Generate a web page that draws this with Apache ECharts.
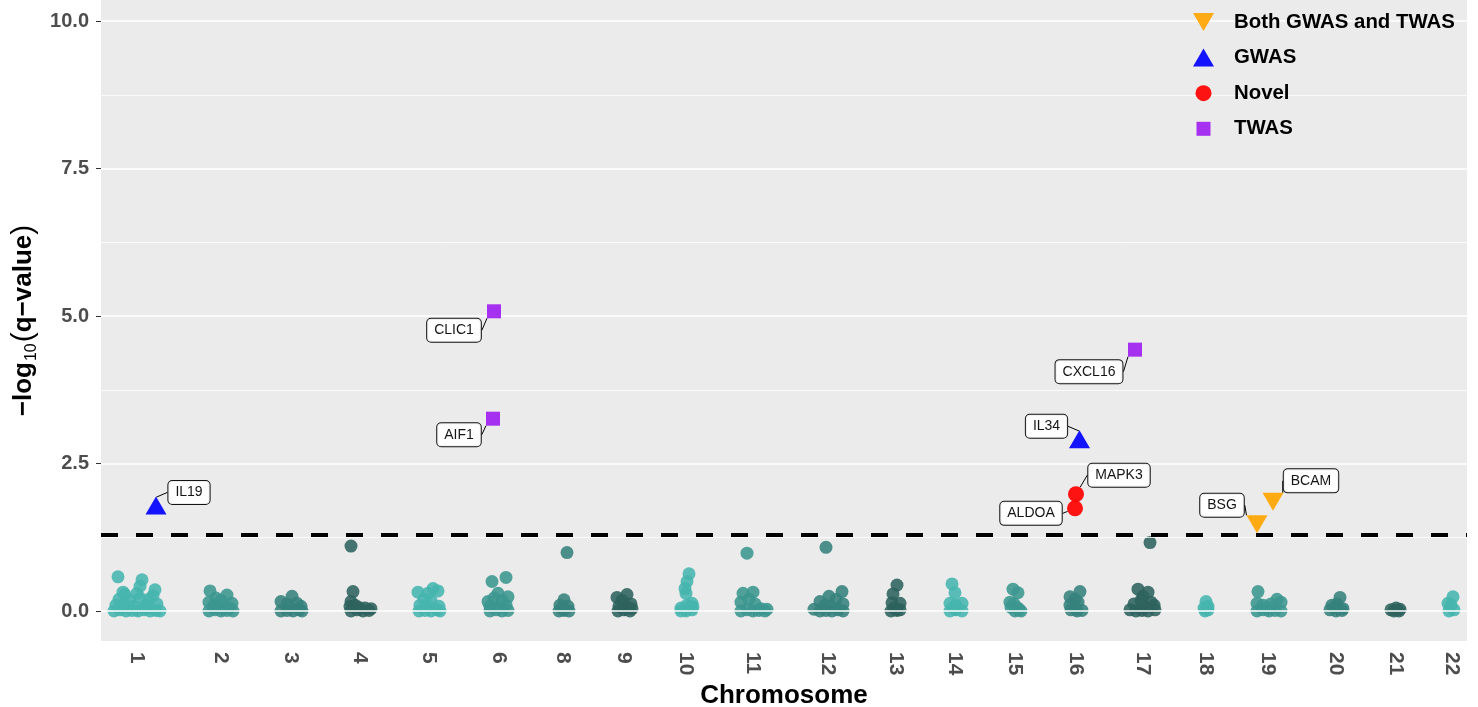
<!DOCTYPE html>
<html>
<head>
<meta charset="utf-8">
<script src="https://cdn.jsdelivr.net/npm/echarts@6/dist/echarts.min.js"></script>
<style>
html,body{margin:0;padding:0;background:#fff;}
#chart{width:1478px;height:707px;}
</style>
</head>
<body>
<div id="chart"></div>
<script>
// ---------------- data ----------------
const chromLabels = ['1','2','3','4','5','6','8','9','10','11','12','13','14','15','16','17','18','19','20','21','22'];
const chromCenters = [3.6, 12.0, 19.0, 25.9, 32.8, 39.8, 46.2, 52.3, 58.5, 65.2, 72.7, 79.5, 85.4, 91.4, 97.5, 104.2, 110.5, 116.7, 123.5, 129.5, 135.1];
const yTicks = [0, 2.5, 5, 7.5, 10];
const yMinor = [1.25, 3.75, 6.25, 8.75];
const threshold = 1.301;

// background genes: [position, -log10(q)]
const chr1 = [[1.3,0],[1.9,0.02],[2.5,0],[3.1,0.01],[3.7,0],[4.3,0.02],[4.9,0],[5.5,0.01],[5.9,0],[1.5,0.1],[2.3,0.12],[3.3,0.08],[4.5,0.1],[5.6,0.12],[1.8,0.2],[2.9,0.18],[3.9,0.22],[4.8,0.2],[5.2,0.26],[2.4,0.28],[1.7,0.58],[4.1,0.53],[3.9,0.42],[5.4,0.36],[2.2,0.32],[3.6,0.3],[4.7,0.05],[2.0,0.05]];
const chr2 = [[10.9,0.34],[12.6,0.27],[11.5,0.22],[10.8,0.15],[12.0,0.18],[13.1,0.13],[10.8,0],[11.4,0.02],[12.0,0],[12.6,0.01],[13.2,0],[11.2,0.08],[12.3,0.07],[11.7,0.1],[12.9,0.05]];
const chr3 = [[19.1,0.25],[18.0,0.16],[18.6,0.12],[19.6,0.13],[20.0,0.08],[18.0,0],[18.6,0.01],[19.2,0],[19.8,0.02],[20.1,0],[18.9,0.06]];
const chr4 = [[25.2,0.33],[25.0,0.16],[24.9,0.08],[25.4,0.1],[25.0,0],[25.6,0.02],[26.2,0],[26.8,0.01],[27.0,0.04],[26.4,0.05],[25.8,0.06],[25.0,1.10]];
const chr5 = [[33.2,0.38],[33.7,0.34],[31.7,0.32],[32.7,0.3],[32.3,0.2],[33.0,0.18],[31.9,0.1],[33.8,0.08],[31.8,0],[32.4,0.01],[33.0,0],[33.6,0.02],[33.9,0],[32.7,0.08]];
const chr6 = [[39.1,0.5],[40.5,0.57],[39.7,0.3],[40.7,0.24],[38.7,0.16],[39.3,0.22],[40.1,0.18],[38.9,0.08],[40.5,0.1],[38.9,0],[39.5,0.02],[40.1,0],[40.7,0.01],[39.8,0.07]];
const chr8 = [[46.3,0.19],[45.9,0.1],[46.7,0.08],[45.8,0],[46.3,0.01],[46.8,0],[46.1,0.05],[46.6,0.99]];
const chr9 = [[52.6,0.28],[51.6,0.23],[52.1,0.18],[53.0,0.12],[51.8,0.08],[52.4,0.1],[51.7,0],[52.3,0.02],[52.9,0],[53.1,0.04]];
const chr10 = [[58.8,0.63],[58.6,0.5],[58.5,0.3],[58.4,0.38],[59.1,0.13],[58.0,0.05],[58.5,0],[59.1,0.02],[58.0,0],[59.2,0.07],[58.6,0.1]];
const chr11 = [[64.2,0.3],[65.2,0.32],[64.0,0.15],[64.8,0.2],[65.4,0.12],[64.0,0],[64.6,0.02],[65.2,0],[65.8,0.01],[66.4,0],[66.6,0.03],[66.0,0.04],[64.6,0.98]];
const chr12 = [[74.1,0.33],[72.8,0.25],[71.9,0.16],[73.5,0.2],[74.2,0.12],[72.4,0.1],[71.3,0.03],[71.9,0],[72.5,0.01],[73.1,0],[73.7,0.02],[74.2,0],[73.0,0.08],[72.5,1.08]];
const chr13 = [[79.6,0.44],[79.2,0.29],[79.1,0.14],[79.9,0.13],[79.3,0.05],[79.0,0],[79.6,0.01],[79.9,0.02]];
const chr14 = [[85.1,0.46],[85.4,0.31],[84.9,0.13],[86.1,0.13],[85.5,0.1],[84.9,0],[85.5,0.02],[86.1,0],[85.2,0.06]];
const chr15 = [[91.2,0.37],[91.7,0.31],[90.9,0.15],[91.3,0.12],[91.7,0.05],[92.0,0],[91.4,0],[91.0,0.06],[91.8,0.02]];
const chr16 = [[97.9,0.33],[96.9,0.24],[97.4,0.2],[97.7,0.15],[96.9,0.1],[97.0,0.02],[97.6,0],[98.1,0.01],[97.4,0.06]];
const chr17 = [[103.7,0.37],[104.7,0.32],[104.2,0.25],[103.3,0.12],[104.0,0.18],[105.0,0.15],[105.3,0.1],[102.9,0.02],[103.5,0],[104.1,0.01],[104.7,0],[105.4,0.02],[104.4,0.07],[104.9,1.16]];
const chr18 = [[110.5,0.16],[110.3,0.05],[110.7,0.02],[110.4,0],[110.7,0.08]];
const chr19 = [[115.7,0.33],[117.6,0.2],[118.0,0.15],[115.6,0.13],[116.2,0.1],[117.0,0.12],[115.6,0],[116.2,0.02],[116.8,0],[117.4,0.01],[118.0,0],[116.6,0.06]];
const chr20 = [[123.9,0.23],[123.1,0.1],[123.6,0.12],[124.2,0.04],[122.9,0.02],[123.5,0],[124.1,0.01],[123.4,0.06]];
const chr21 = [[129.0,0.02],[129.5,0.05],[129.9,0.03],[129.3,0],[129.8,0]];
const chr22 = [[135.2,0.24],[134.7,0.13],[135.0,0.1],[134.8,0],[135.3,0.02]];
const chromPoints = [chr1,chr2,chr3,chr4,chr5,chr6,chr8,chr9,chr10,chr11,chr12,chr13,chr14,chr15,chr16,chr17,chr18,chr19,chr20,chr21,chr22];

// highlighted genes
const bothGenes  = [{name:'BSG',  value:[115.6,1.47]}, {name:'BCAM', value:[117.2,1.85]}];
const gwasGenes  = [{name:'IL19', value:[5.5,1.79]},   {name:'IL34', value:[97.85,2.91]}];
const novelGenes = [{name:'MAPK3',value:[97.5,1.98]},  {name:'ALDOA',value:[97.4,1.74]}];
const twasGenes  = [{name:'CLIC1',value:[39.3,5.08]},  {name:'AIF1', value:[39.2,3.26]}, {name:'CXCL16', value:[103.4,4.43]}];

// ---------------- styling ----------------
const FONT = '"Liberation Sans", Arial, Helvetica, sans-serif';
const shades = ['#45b5ae', '#3b968f', '#36827c', '#2e625d'];
const labelOffsets = {
  IL19:[33,-13], CLIC1:[-40,19], AIF1:[-34,16], CXCL16:[-46,22], IL34:[-33,-13],
  MAPK3:[43,-19], ALDOA:[-44,5], BSG:[-35,-19], BCAM:[38,-21]
};

const bgData = [];
chromPoints.forEach((pts, i) => pts.forEach(p => bgData.push([p[0], p[1], i])));

const geneLabel = {
  show: true, position: 'inside', formatter: '{b}',
  fontFamily: FONT, fontSize: 14, color: '#000', lineHeight: 16,
  backgroundColor: '#fff', borderColor: '#000', borderWidth: 1, borderRadius: 4,
  padding: [4, 7, 3, 7]
};
const geneLabelLine = { show: true, lineStyle: { color: '#000', width: 1 } };
const geneLayout = p => { const o = labelOffsets[p.text] || [0,0]; return { dx: o[0], dy: o[1] }; };

function geneSeries(name, data, symbol, size, color, rotate) {
  return {
    name, type: 'scatter', data, symbol, symbolSize: size, symbolRotate: rotate || 0,
    itemStyle: { color, opacity: 0.92 }, z: 5,
    label: geneLabel, labelLine: geneLabelLine, labelLayout: geneLayout,
    emphasis: { disabled: true }
  };
}

const chart = echarts.init(document.getElementById('chart'));
chart.setOption({
  animation: false,
  backgroundColor: '#fff',
  grid: { left: 101, right: 11, top: 0, bottom: 66, show: true, backgroundColor: '#EBEBEB', borderWidth: 0,
          containLabel: false, outerBoundsMode: 'none' },
  xAxis: {
    type: 'value', min: 0, max: 136.6,
    name: 'Chromosome', nameLocation: 'middle', nameGap: 40,
    nameTextStyle: { fontFamily: FONT, fontSize: 26, fontWeight: 'bold', color: '#000' },
    axisLine: { show: false },
    splitLine: { show: false },
    axisTick: { show: true, customValues: chromCenters, length: 5, lineStyle: { color: '#333', width: 1 } },
    axisLabel: {
      customValues: chromCenters, rotate: -90, margin: 11,
      fontFamily: FONT, fontSize: 21, fontWeight: 'bold', color: '#4d4d4d',
      formatter: v => { const i = chromCenters.indexOf(v); return i >= 0 ? chromLabels[i] : ''; }
    }
  },
  yAxis: {
    type: 'value', min: -0.508, max: 10.356,
    name: '{t|−log}{s|10}{p|(}{t|q−value}{p|)}', nameLocation: 'middle', nameGap: 50, nameRotate: 90,
    nameTextStyle: {
      rich: {
        t: { fontFamily: FONT, fontSize: 26, fontWeight: 'bold', color: '#000', lineHeight: 30, verticalAlign: 'middle' },
        s: { fontFamily: FONT, fontSize: 16, color: '#000', lineHeight: 16, verticalAlign: 'bottom', padding: [0, 1, 0, 1] },
        p: { fontFamily: FONT, fontSize: 30, color: '#000', lineHeight: 30, verticalAlign: 'middle' }
      }
    },
    axisLine: { show: false },
    splitLine: { show: false },
    axisTick: { show: true, customValues: yTicks, length: 5, lineStyle: { color: '#333', width: 1 } },
    axisLabel: {
      customValues: yTicks, margin: 12,
      fontFamily: FONT, fontSize: 20, fontWeight: 'bold', color: '#4d4d4d',
      formatter: v => v.toFixed(1)
    }
  },
  legend: {
    orient: 'vertical', left: 1188, top: 7, z: 20,
    itemWidth: 21, itemHeight: 18, itemGap: 15.6, selectedMode: false,
    textStyle: { fontFamily: FONT, fontSize: 20.4, fontWeight: 'bold', color: '#000', padding: [0, 0, 0, 15] },
    data: [
      { name: 'Both GWAS and TWAS', icon: 'path://M0,0L21,0L10.5,18Z' },
      { name: 'GWAS', icon: 'path://M10.5,0L21,18L0,18Z' },
      { name: 'Novel', icon: 'path://M0,0M21,18M18.5,9A8,8,0,1,1,2.5,9A8,8,0,1,1,18.5,9Z' },
      { name: 'TWAS', icon: 'path://M0,0M21,18M3.5,2L17.5,2L17.5,16L3.5,16Z' }
    ]
  },
  series: [
    {
      name: 'grid', type: 'scatter', data: [], z: 1, silent: true,
      markLine: {
        silent: true, symbol: ['none', 'none'], label: { show: false }, animation: false,
        data: yTicks.map(v => ({ yAxis: v, lineStyle: { color: '#fff', width: 1.6, type: 'solid' } }))
          .concat(yMinor.map(v => ({ yAxis: v, lineStyle: { color: '#fff', width: 0.8, type: 'solid' } })))
      }
    },
    {
      name: 'genes', type: 'scatter', data: bgData, symbol: 'circle', symbolSize: 13, z: 2,
      itemStyle: { color: p => shades[p.value[2] % 4], opacity: 0.88 },
      emphasis: { disabled: true }
    },
    {
      name: 'threshold', type: 'scatter', data: [], z: 3, silent: true,
      markLine: {
        silent: true, symbol: ['none', 'none'], label: { show: false }, animation: false,
        data: [{ yAxis: threshold, lineStyle: { color: '#000', width: 4, type: [17, 18] } }]
      }
    },
    geneSeries('Both GWAS and TWAS', bothGenes, 'triangle', [21, 18], '#FFA500', 180),
    geneSeries('GWAS', gwasGenes, 'triangle', [21, 18], '#0000FF', 0),
    geneSeries('Novel', novelGenes, 'circle', 16, '#FF0000', 0),
    geneSeries('TWAS', twasGenes, 'rect', 14, '#A020F0', 0)
  ]
});
</script>
</body>
</html>
